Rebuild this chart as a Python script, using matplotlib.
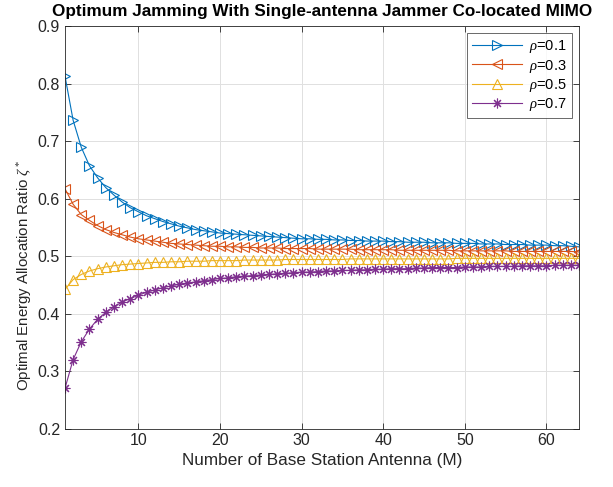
import matplotlib
matplotlib.use("Agg")
import matplotlib.pyplot as plt
import numpy as np

plt.rcParams['font.family'] = ['Liberation Sans', 'DejaVu Sans']
plt.rcParams['mathtext.fontset'] = 'custom'
plt.rcParams['mathtext.it'] = 'Liberation Serif:italic'
plt.rcParams['mathtext.rm'] = 'Liberation Serif'

M = list(range(1, 65))

rho_01 = [0.813, 0.736, 0.689, 0.657, 0.636, 0.619, 0.606, 0.594, 0.584, 0.577,
          0.570, 0.565, 0.560, 0.556, 0.552, 0.549, 0.546, 0.544, 0.542, 0.540,
          0.539, 0.538, 0.537, 0.536, 0.535, 0.534, 0.533, 0.532, 0.531, 0.530,
          0.530, 0.529, 0.529, 0.528, 0.528, 0.527, 0.527, 0.526, 0.526, 0.526,
          0.525, 0.525, 0.524, 0.524, 0.524, 0.523, 0.523, 0.523, 0.522, 0.522,
          0.522, 0.521, 0.521, 0.521, 0.520, 0.520, 0.520, 0.519, 0.519, 0.519,
          0.518, 0.518, 0.517, 0.516]
rho_03 = [0.617, 0.590, 0.572, 0.562, 0.553, 0.546, 0.541, 0.537, 0.533, 0.530,
          0.528, 0.526, 0.524, 0.522, 0.521, 0.520, 0.519, 0.518, 0.517, 0.517,
          0.516, 0.516, 0.515, 0.515, 0.514, 0.514, 0.514, 0.513, 0.513, 0.513,
          0.513, 0.512, 0.512, 0.512, 0.512, 0.512, 0.511, 0.511, 0.511, 0.511,
          0.511, 0.510, 0.510, 0.510, 0.510, 0.510, 0.510, 0.510, 0.509, 0.509,
          0.509, 0.509, 0.509, 0.509, 0.509, 0.508, 0.508, 0.508, 0.508, 0.508,
          0.508, 0.508, 0.508, 0.507]
rho_05 = [0.442, 0.459, 0.468, 0.474, 0.478, 0.481, 0.483, 0.485, 0.486, 0.487,
          0.488, 0.489, 0.489, 0.490, 0.490, 0.491, 0.491, 0.491, 0.492, 0.492,
          0.492, 0.492, 0.493, 0.493, 0.493, 0.493, 0.493, 0.494, 0.494, 0.494,
          0.494, 0.494, 0.494, 0.494, 0.494, 0.495, 0.495, 0.495, 0.495, 0.495,
          0.495, 0.495, 0.495, 0.495, 0.495, 0.495, 0.495, 0.495, 0.496, 0.496,
          0.496, 0.496, 0.496, 0.496, 0.496, 0.496, 0.496, 0.496, 0.496, 0.496,
          0.496, 0.496, 0.496, 0.496]
rho_07 = [0.270, 0.320, 0.351, 0.373, 0.390, 0.402, 0.412, 0.420, 0.426, 0.432,
          0.437, 0.441, 0.445, 0.448, 0.451, 0.453, 0.455, 0.457, 0.459, 0.461,
          0.462, 0.464, 0.465, 0.466, 0.467, 0.468, 0.469, 0.470, 0.471, 0.472,
          0.472, 0.473, 0.474, 0.474, 0.475, 0.475, 0.476, 0.476, 0.477, 0.477,
          0.478, 0.478, 0.478, 0.479, 0.479, 0.480, 0.480, 0.480, 0.480, 0.481,
          0.481, 0.481, 0.482, 0.482, 0.482, 0.482, 0.483, 0.483, 0.483, 0.483,
          0.484, 0.484, 0.484, 0.484]

labels = [r'$\rho$=0.1', r'$\rho$=0.3', r'$\rho$=0.5', r'$\rho$=0.7']
x_ticks = [10, 20, 30, 40, 50, 60]
y_ticks = [0.2, 0.3, 0.4, 0.5, 0.6, 0.7, 0.8, 0.9]

fig = plt.figure(figsize=(6.13, 4.87), dpi=100)
ax = fig.add_axes([0.106, 0.120, 0.8385, 0.8266])

series = [rho_01, rho_03, rho_05, rho_07]
colors = ['#0072BD', '#D95319', '#EDB120', '#7E2F8E']
markers = ['>', '<', '^', (8, 2, 0)]
sizes = [7.5, 7.5, 7.5, 7]
for ys, c, mk, ms, lb in zip(series, colors, markers, sizes, labels):
    ax.plot(M, ys, color=c, marker=mk, markersize=ms,
            markerfacecolor='none', markeredgecolor=c, markeredgewidth=0.8,
            linewidth=0.8, label=lb)

ax.set_xlim(1, 64)
ax.set_ylim(0.2, 0.9)
ax.set_xticks(x_ticks)
ax.set_yticks(y_ticks)
ax.set_yticklabels([f'{v:.1f}' for v in y_ticks])
ax.tick_params(direction='in', top=True, right=True, labelsize=11.5,
               colors='#262626', length=4, width=0.6)
ax.grid(True, color='#e0e0e0', linewidth=0.7)
ax.set_axisbelow(True)
for s in ax.spines.values():
    s.set_color('#262626')
    s.set_linewidth(0.6)

ax.set_title('Optimum Jamming With Single-antenna Jammer Co-located MIMO',
             fontsize=12.3, fontweight='bold', pad=7)
ax.set_xlabel('Number of Base Station Antenna (M)', fontsize=12.3, color='#262626',
              labelpad=3)
ax.set_ylabel(r'Optimal Energy Allocation Ratio $\zeta^*$', fontsize=10.8,
              color='#262626')
ax.yaxis.set_label_coords(-0.060, 0.38)

leg = ax.legend(loc='upper right', fontsize=10.5, frameon=True, fancybox=False,
                edgecolor='#262626', handlelength=3.4, borderaxespad=0.5,
                labelspacing=0.15, borderpad=0.35, handletextpad=0.5)
leg.get_frame().set_linewidth(0.6)

fig.savefig('out.png', dpi=100)
